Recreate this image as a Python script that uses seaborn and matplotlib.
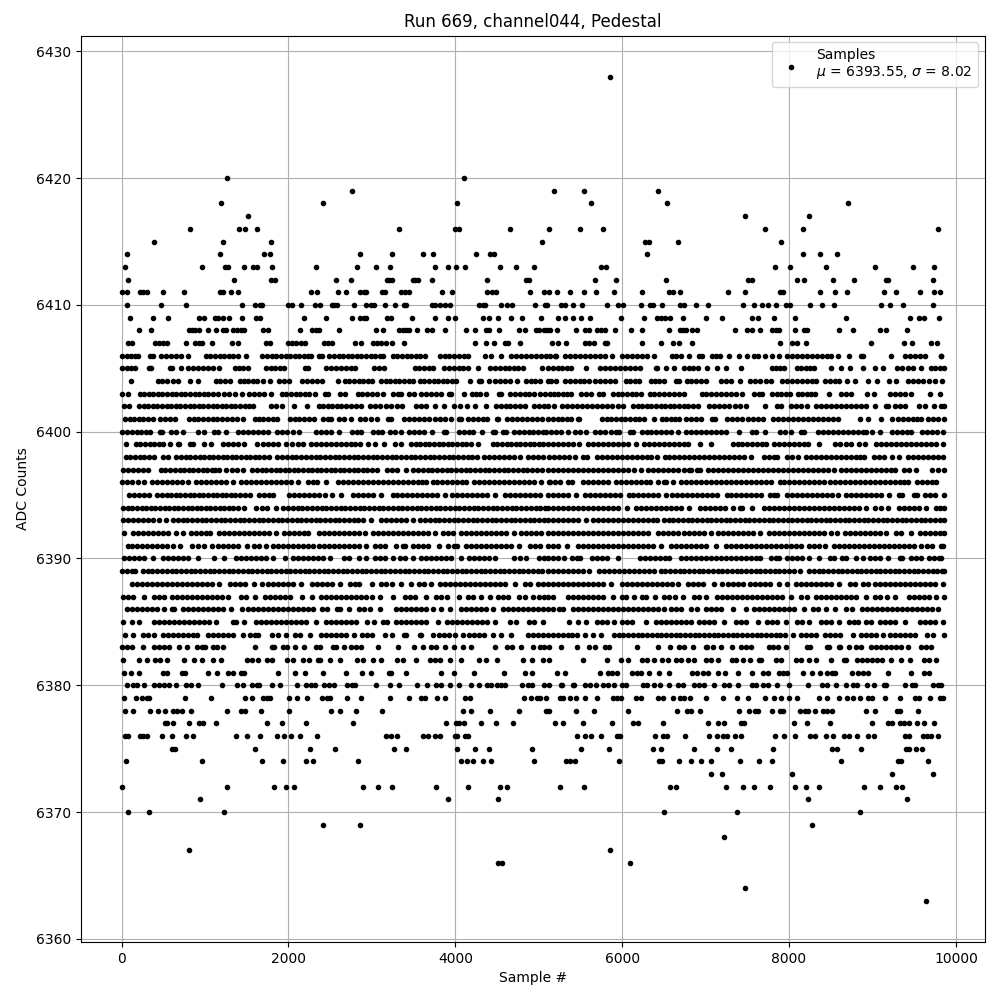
# Pedestal samples for one ADC channel
import pandas as pd
import matplotlib
matplotlib.use("Agg")
import matplotlib.pyplot as plt
import seaborn as sns

# sample numbers at each ADC count
s6428 = [5856]
s6420 = [1268, 4100]
s6419 = [2756, 5184, 5544, 6432]
s6418 = [1196, 2408, 4016, 5628, 6540, 8712]
s6417 = [1520, 7476, 8244]
s6416 = [824, 1412, 1484, 1628, 3320, 3992, 4040, 4652, 5124, 5496, 5772, 7716, 8172, 9780]
s6415 = [392, 1220, 1796, 5044, 6276, 6324, 6672, 7908]
s6414 = [68, 1184, 1712, 1784, 2852, 3236, 3608, 3728, 4244, 4412, 4460, 6300, 8172, 8376, 8580]
s6413 = [44, 968, 1244, 1280, 1472, 1580, 1628, 1808, 2324, 2816, 3044, 3212, 3752, 3908, 4004, 4112, 4532, 4724,
         4940, 5748, 5808, 7836, 8016, 8448, 9036, 9480, 9732]
s6412 = [80, 1352, 1796, 1844, 2564, 2744, 3180, 3210, 3240, 3488, 3515, 3550, 3716, 4376, 4852, 4880, 5676, 5928,
         6528, 7512, 7560, 8100, 8184, 8532, 8784, 9168, 9192, 9720]
s6411 = [0, 68, 220, 260, 308, 500, 752, 1184, 1220, 1316, 1400, 2276, 2336, 2588, 2684, 2852, 2900, 2924, 3116, 3152,
         3352, 3400, 3440, 3836, 3956, 4376, 4436, 4484, 4892, 5060, 5124, 5220, 5376, 5544, 5688, 5904, 6240, 6564,
         6612, 6696, 7272, 7476, 7896, 7932, 8376, 8556, 8700, 9144, 9288, 9564, 9732, 9804]
s6410 = [60, 476, 776, 1448, 1604, 1664, 1688, 2000, 2040, 2156, 2312, 2372, 2516, 2540, 2576, 2780, 2924, 2984, 3020,
         3152, 3272, 3380, 3404, 3716, 3752, 3812, 3872, 3932, 4280, 4328, 4352, 4544, 4616, 4676, 4952, 5072, 5100,
         5268, 5316, 5412, 5520, 5820, 5952, 6012, 6228, 6336, 6372, 6480, 6696, 6744, 6888, 7032, 7452, 7584, 7680,
         7752, 7848, 7968, 8016, 8256, 8400, 8544, 9108, 9216, 9360, 9720]
s6409 = [104, 380, 560, 932, 992, 1124, 1160, 1220, 1292, 1448, 1616, 1664, 2192, 2444, 2756, 2852, 2900, 2924, 3176,
         3224, 3476, 3752, 3908, 3992, 4328, 4400, 4508, 4664, 4796, 5030, 5232, 5316, 5412, 5504, 5616, 5988, 6264,
         6420, 6468, 6516, 6576, 6732, 7008, 7200, 7560, 7632, 7824, 8076, 8688, 9444, 9552, 9612, 9792]
s6408 = [212, 356, 812, 848, 884, 932, 1040, 1136, 1220, 1256, 1340, 1388, 1436, 1472, 1700, 1760, 2144, 2288, 2324,
         2360, 2600, 3044, 3128, 3320, 3368, 3404, 3440, 3536, 3656, 3716, 3872, 4124, 4232, 4364, 4400, 4520, 4760,
         4832, 4964, 5000, 5060, 5100, 5136, 5220, 5448, 5556, 5604, 5700, 5748, 5796, 5916, 6108, 6240, 6564, 6696,
         6732, 6768, 6840, 6900, 7356, 7500, 7560, 7656, 7800, 7848, 7884, 8076, 8184, 8220, 8604, 8772, 9096, 9168,
         9408]
s6407 = [76, 128, 404, 452, 500, 540, 776, 884, 932, 964, 1088, 1328, 1400, 1736, 1784, 2000, 2048, 2096, 2156, 2204,
         2420, 2468, 2516, 2792, 2864, 3008, 3056, 3104, 3164, 3236, 3380, 4232, 4364, 4460, 4592, 4628, 4772, 5160,
         5232, 5328, 5556, 5604, 5664, 5796, 5820, 6240, 6468, 6612, 6684, 6840, 7896, 8040, 8100, 8208, 8988, 9372,
         9468, 9696, 9768]
s6406 = [8, 60, 110, 160, 200, 340, 380, 470, 530, 590, 650, 710, 800, 1010, 1065, 1120, 1175, 1230, 1285, 1340, 1392,
         1488, 1688, 1745, 1800, 1855, 1910, 1965, 2020, 2075, 2130, 2185, 2240, 2272, 2368, 2400, 2488, 2545, 2600,
         2655, 2710, 2765, 2820, 2875, 2930, 2985, 3040, 3095, 3132, 3248, 3305, 3360, 3415, 3470, 3525, 3580, 3632,
         3816, 3875, 3930, 3990, 4045, 4100, 4152, 4360, 4424, 4548, 4668, 4725, 4785, 4845, 4905, 4965, 5025, 5085,
         5140, 5190, 5204, 5312, 5370, 5430, 5490, 5550, 5610, 5670, 5730, 5790, 5872, 6000, 6060, 6120, 6180, 6240,
         6300, 6384, 6592, 6650, 6710, 6804, 6920, 6956, 7080, 7130, 7176, 7284, 7396, 7492, 7580, 7624, 7712, 7800,
         7884, 7972, 8030, 8090, 8150, 8210, 8270, 8330, 8390, 8450, 8504, 8592, 8724, 8860, 8884, 9228, 9392, 9450,
         9510, 9570, 9624, 9820, 9824]
s6405 = [8, 60, 110, 160, 328, 352, 580, 600, 712, 800, 860, 920, 975, 1035, 1092, 1172, 1356, 1410, 1460, 1512, 1728,
         1785, 1840, 1895, 1952, 2200, 2240, 2448, 2505, 2565, 2625, 2685, 2745, 2800, 3028, 3085, 3144, 3516, 3570,
         3625, 3680, 3732, 3868, 3925, 3980, 4040, 4095, 4152, 4268, 4416, 4470, 4530, 4590, 4645, 4700, 4755, 4812,
         5040, 5112, 5170, 5225, 5280, 5335, 5384, 5568, 5740, 5800, 5855, 5915, 5975, 6035, 6095, 6155, 6216, 6400,
         6416, 6524, 6620, 6740, 6795, 6850, 6904, 7020, 7140, 7248, 7428, 7792, 7845, 7895, 7944, 8092, 8145, 8200,
         8250, 8300, 8508, 8628, 8736, 8892, 9032, 9132, 9292, 9355, 9420, 9484, 9582, 9700, 9755, 9805, 9856]
s6404 = [108, 432, 490, 550, 612, 680, 820, 920, 1128, 1185, 1245, 1304, 1416, 1470, 1520, 1575, 1624, 1700, 1784,
         1888, 1950, 2012, 2160, 2220, 2285, 2345, 2404, 2588, 2676, 2730, 2785, 2840, 2895, 2950, 3000, 3108, 3165,
         3220, 3275, 3330, 3385, 3440, 3492, 3576, 3630, 3685, 3740, 3795, 3850, 3905, 3960, 4012, 4172, 4288, 4304,
         4408, 4470, 4530, 4590, 4652, 4740, 4848, 4905, 4960, 5012, 5110, 5150, 5204, 5320, 5375, 5430, 5490, 5545,
         5604, 5680, 5735, 5795, 5855, 5912, 6040, 6095, 6150, 6204, 6340, 6395, 6445, 6496, 6640, 6676, 6772, 6830,
         6890, 6945, 7004, 7180, 7240, 7304, 7416, 7528, 7590, 7650, 7720, 7784, 7920, 7980, 8040, 8100, 8160, 8215,
         8270, 8324, 8428, 8485, 8545, 8604, 8700, 8796, 8952, 9060, 9200, 9284, 9420, 9480, 9545, 9610, 9680, 9744,
         9828]
s6403 = [8, 80, 216, 270, 325, 380, 435, 490, 545, 600, 655, 710, 765, 820, 875, 930, 985, 1040, 1095, 1152, 1228,
         1290, 1360, 1440, 1528, 1590, 1650, 1712, 1796, 1920, 1975, 2030, 2085, 2140, 2195, 2250, 2320, 2440, 2472,
         2620, 2680, 2828, 2885, 2945, 3005, 3065, 3132, 3256, 3310, 3352, 3440, 3500, 3588, 3650, 3710, 3770, 3832,
         3928, 3952, 4100, 4200, 4250, 4292, 4368, 4528, 4552, 4656, 4715, 4770, 4830, 4885, 4944, 5020, 5080, 5140,
         5180, 5235, 5290, 5340, 5384, 5512, 5570, 5624, 5728, 5768, 5888, 5945, 6000, 6060, 6120, 6170, 6224, 6328,
         6385, 6445, 6505, 6565, 6625, 6685, 6744, 6952, 7010, 7070, 7130, 7190, 7250, 7310, 7370, 7436, 7576, 7640,
         7676, 7792, 7850, 7905, 7960, 8012, 8104, 8160, 8210, 8260, 8312, 8484, 8620, 8680, 8744, 8940, 9024, 9208,
         9270, 9330, 9395, 9456, 9684, 9804]
s6402 = [28, 92, 208, 265, 320, 375, 430, 485, 540, 595, 650, 705, 760, 815, 870, 925, 980, 1035, 1090, 1145, 1200,
         1255, 1310, 1365, 1420, 1475, 1530, 1572, 1788, 1850, 1920, 2066, 2228, 2360, 2415, 2470, 2525, 2580, 2635,
         2690, 2745, 2810, 2872, 2980, 3040, 3100, 3165, 3230, 3295, 3360, 3528, 3590, 3652, 3760, 3860, 3988, 4052,
         4140, 4240, 4370, 4488, 4545, 4605, 4660, 4720, 4775, 4832, 4948, 5005, 5060, 5112, 5184, 5280, 5340, 5400,
         5460, 5520, 5580, 5640, 5700, 5760, 5820, 5880, 5945, 6004, 6128, 6185, 6240, 6295, 6350, 6405, 6460, 6515,
         6570, 6625, 6680, 6735, 6790, 6845, 6904, 7040, 7100, 7160, 7220, 7285, 7350, 7415, 7484, 7708, 7852, 7904,
         8020, 8080, 8140, 8216, 8320, 8380, 8440, 8500, 8560, 8620, 8680, 8740, 8800, 8860, 8924, 9035, 9160, 9184,
         9268, 9330, 9384, 9560, 9624, 9732, 9820, 9856]
s6401 = [40, 95, 150, 205, 260, 315, 372, 456, 515, 575, 640, 808, 865, 920, 975, 1030, 1090, 1145, 1200, 1260, 1320,
         1385, 1456, 1596, 1650, 1700, 1755, 1810, 1864, 2016, 2075, 2130, 2185, 2245, 2304, 2416, 2470, 2512, 2608,
         2670, 2744, 2856, 2915, 2985, 3064, 3196, 3232, 3380, 3440, 3500, 3560, 3625, 3690, 3755, 3820, 3880, 3944,
         4040, 4072, 4156, 4215, 4270, 4330, 4384, 4496, 4512, 4616, 4675, 4735, 4795, 4855, 4915, 4975, 5035, 5112,
         5170, 5225, 5280, 5335, 5384, 5468, 5484, 5760, 5815, 5870, 5925, 5980, 6035, 6090, 6150, 6205, 6264, 6384,
         6472, 6525, 6580, 6632, 6684, 6768, 6825, 6885, 6944, 7080, 7116, 7260, 7320, 7380, 7440, 7505, 7570, 7630,
         7692, 7808, 7865, 7925, 7985, 8045, 8105, 8165, 8225, 8285, 8345, 8405, 8465, 8525, 8584, 8852, 8952, 9102,
         9240, 9300, 9360, 9420, 9480, 9530, 9584, 9668, 9730, 9790, 9856]
s6400 = [0, 68, 125, 180, 235, 290, 344, 456, 480, 588, 650, 740, 920, 992, 1108, 1160, 1252, 1400, 1460, 1520, 1580,
         1640, 1695, 1752, 1868, 1925, 1985, 2050, 2124, 2328, 2390, 2450, 2510, 2600, 2760, 2820, 2872, 3008, 3070,
         3120, 3220, 3280, 3352, 3448, 3510, 3570, 3630, 3724, 3868, 3892, 4040, 4100, 4160, 4212, 4320, 4448, 4472,
         4568, 4612, 4708, 4765, 4820, 4880, 4935, 4990, 5045, 5092, 5152, 5210, 5270, 5352, 5440, 5500, 5564, 5680,
         5740, 5800, 5860, 5920, 5964, 6088, 6124, 6240, 6295, 6350, 6405, 6460, 6520, 6580, 6664, 6768, 6825, 6885,
         6945, 7005, 7065, 7125, 7185, 7244, 7402, 7552, 7604, 7706, 7888, 7950, 8024, 8140, 8184, 8352, 8410, 8470,
         8530, 8590, 8650, 8710, 8770, 8830, 8890, 8924, 9000, 9092, 9232, 9290, 9350, 9410, 9464, 9592, 9650, 9710,
         9770, 9844]
s6399 = [56, 168, 225, 280, 335, 390, 445, 500, 584, 680, 692, 816, 852, 988, 1072, 1216, 1270, 1330, 1392, 1464, 1628,
         1690, 1750, 1810, 1872, 1976, 2040, 2112, 2172, 2268, 2325, 2385, 2445, 2505, 2565, 2625, 2685, 2745, 2800,
         2852, 2948, 3032, 3140, 3280, 3352, 3468, 3525, 3580, 3635, 3690, 3745, 3800, 3855, 3910, 3965, 4020, 4075,
         4130, 4190, 4272, 4448, 4505, 4560, 4615, 4670, 4725, 4780, 4835, 4890, 4945, 5000, 5055, 5112, 5170, 5230,
         5290, 5350, 5410, 5484, 5592, 5650, 5710, 5770, 5830, 5890, 5950, 6010, 6070, 6164, 6260, 6320, 6380, 6440,
         6500, 6560, 6620, 6680, 6740, 6792, 6936, 7068, 7328, 7385, 7440, 7500, 7560, 7620, 7670, 7724, 7820, 7875,
         7935, 7995, 8055, 8115, 8175, 8224, 8364, 8548, 8610, 8680, 8744, 8840, 8912, 9040, 9100, 9160, 9220, 9280,
         9340, 9400, 9460, 9520, 9580, 9640, 9700, 9760, 9844]
s6398 = [48, 105, 160, 215, 270, 330, 392, 496, 560, 656, 715, 770, 825, 880, 935, 990, 1045, 1100, 1155, 1210, 1265,
         1320, 1375, 1430, 1485, 1540, 1595, 1650, 1710, 1772, 1868, 1925, 1982, 2039, 2096, 2153, 2210, 2267, 2324,
         2381, 2438, 2495, 2552, 2609, 2666, 2723, 2780, 2837, 2894, 2951, 3008, 3065, 3122, 3179, 3236, 3293, 3350,
         3407, 3464, 3521, 3578, 3635, 3692, 3749, 3806, 3863, 3920, 3977, 4034, 4091, 4148, 4205, 4264, 4348, 4405,
         4465, 4525, 4585, 4645, 4705, 4772, 4868, 4930, 4990, 5052, 5120, 5180, 5240, 5300, 5360, 5432, 5528, 5584,
         5700, 5760, 5820, 5880, 5940, 6000, 6060, 6120, 6180, 6240, 6300, 6344, 6420, 6508, 6565, 6620, 6680, 6740,
         6800, 6860, 6920, 6980, 7040, 7100, 7160, 7220, 7280, 7340, 7400, 7460, 7544, 7700, 7760, 7816, 7856, 7980,
         8040, 8104, 8208, 8265, 8325, 8385, 8445, 8505, 8565, 8625, 8685, 8745, 8805, 8850, 8904, 9020, 9080, 9140,
         9232, 9316, 9420, 9480, 9540, 9600, 9660, 9720, 9780, 9844]
s6397 = [16, 75, 135, 195, 255, 312, 468, 525, 580, 640, 695, 750, 805, 860, 915, 970, 1025, 1080, 1125, 1172, 1256,
         1320, 1380, 1460, 1568, 1625, 1680, 1735, 1790, 1845, 1900, 1955, 2010, 2065, 2120, 2175, 2230, 2285, 2340,
         2395, 2450, 2505, 2560, 2615, 2670, 2725, 2780, 2835, 2890, 2945, 3000, 3064, 3180, 3240, 3300, 3404, 3496,
         3553, 3610, 3667, 3724, 3781, 3838, 3895, 3952, 4009, 4066, 4123, 4180, 4237, 4294, 4351, 4408, 4465, 4522,
         4579, 4636, 4693, 4750, 4807, 4864, 4921, 4978, 5035, 5112, 5170, 5230, 5290, 5350, 5410, 5470, 5530, 5590,
         5650, 5710, 5770, 5830, 5890, 5950, 6010, 6070, 6144, 6224, 6312, 6375, 6435, 6495, 6555, 6615, 6675, 6735,
         6795, 6824, 6900, 6936, 7032, 7090, 7150, 7210, 7270, 7330, 7390, 7450, 7510, 7570, 7630, 7690, 7750, 7810,
         7870, 7930, 7990, 8050, 8110, 8170, 8230, 8290, 8350, 8410, 8470, 8536, 8620, 8680, 8740, 8800, 8860, 8920,
         8980, 9040, 9100, 9160, 9220, 9272, 9380, 9440, 9524, 9712, 9780, 9856]
s6396 = [8, 65, 130, 192, 272, 368, 425, 485, 545, 605, 665, 725, 800, 896, 955, 1015, 1075, 1135, 1195, 1255, 1332,
         1428, 1490, 1550, 1610, 1670, 1730, 1790, 1850, 1910, 1970, 2030, 2112, 2240, 2300, 2340, 2446, 2588, 2650,
         2710, 2770, 2830, 2890, 2950, 3010, 3070, 3130, 3190, 3250, 3310, 3370, 3430, 3490, 3550, 3600, 3652, 3728,
         3785, 3845, 3905, 3965, 4025, 4085, 4132, 4228, 4285, 4345, 4405, 4465, 4525, 4585, 4645, 4705, 4765, 4825,
         4885, 4945, 5032, 5120, 5140, 5200, 5256, 5352, 5404, 5528, 5590, 5650, 5710, 5770, 5832, 5920, 5980, 6040,
         6100, 6160, 6220, 6280, 6336, 6432, 6500, 6524, 6612, 6700, 6760, 6820, 6880, 6940, 7000, 7060, 7120, 7180,
         7240, 7300, 7360, 7420, 7480, 7540, 7600, 7660, 7720, 7784, 7888, 7945, 8005, 8065, 8125, 8185, 8245, 8305,
         8365, 8425, 8485, 8545, 8605, 8665, 8725, 8785, 8845, 8905, 8965, 9025, 9085, 9145, 9205, 9265, 9325, 9375,
         9424, 9528, 9590, 9650, 9710, 9764]
s6395 = [88, 145, 205, 265, 332, 428, 485, 540, 595, 650, 705, 760, 815, 870, 925, 980, 1035, 1090, 1145, 1200, 1255,
         1310, 1365, 1420, 1480, 1544, 1648, 1710, 1770, 1812, 2008, 2065, 2125, 2185, 2245, 2305, 2365, 2432, 2524,
         2632, 2768, 2830, 2890, 2950, 3010, 3112, 3248, 3305, 3365, 3425, 3485, 3545, 3605, 3665, 3725, 3785, 3872,
         3960, 4020, 4080, 4140, 4200, 4260, 4320, 4380, 4472, 4596, 4655, 4715, 4775, 4835, 4895, 4955, 5015, 5112,
         5170, 5230, 5290, 5350, 5444, 5552, 5610, 5670, 5730, 5790, 5850, 5910, 5970, 6076, 6128, 6190, 6250, 6310,
         6370, 6430, 6528, 6600, 6660, 6720, 6780, 6840, 6900, 6960, 7020, 7080, 7140, 7256, 7300, 7360, 7420, 7480,
         7540, 7600, 7660, 7768, 7820, 7856, 7972, 8030, 8090, 8150, 8210, 8270, 8330, 8390, 8450, 8510, 8584, 8680,
         8740, 8800, 8860, 8920, 8980, 9040, 9100, 9204, 9320, 9352, 9500, 9536, 9632, 9690, 9750, 9852]
s6394 = [16, 75, 130, 185, 240, 295, 350, 405, 460, 515, 570, 625, 680, 735, 790, 845, 900, 955, 1010, 1065, 1120,
         1175, 1230, 1285, 1340, 1395, 1472, 1616, 1680, 1740, 1852, 1940, 1997, 2054, 2111, 2168, 2225, 2282, 2339,
         2396, 2453, 2510, 2567, 2624, 2681, 2738, 2795, 2852, 2909, 2966, 3023, 3080, 3137, 3194, 3251, 3308, 3365,
         3422, 3479, 3536, 3593, 3650, 3707, 3764, 3821, 3878, 3935, 3992, 4049, 4106, 4163, 4220, 4277, 4334, 4391,
         4448, 4505, 4562, 4619, 4676, 4733, 4790, 4847, 4904, 4961, 5018, 5075, 5112, 5170, 5230, 5290, 5350, 5410,
         5470, 5530, 5590, 5650, 5710, 5770, 5830, 5890, 5950, 6056, 6168, 6230, 6290, 6350, 6410, 6470, 6530, 6590,
         6650, 6710, 6804, 6928, 6990, 7050, 7110, 7170, 7230, 7324, 7408, 7432, 7552, 7700, 7760, 7820, 7880, 7940,
         8000, 8060, 8120, 8180, 8240, 8300, 8360, 8420, 8480, 8540, 8600, 8660, 8720, 8780, 8840, 8924, 9032, 9100,
         9184, 9320, 9380, 9440, 9500, 9560, 9644, 9760, 9810, 9856]
s6393 = [16, 75, 135, 195, 255, 315, 375, 452, 528, 616, 673, 730, 787, 844, 901, 958, 1015, 1072, 1129, 1186, 1243,
         1300, 1357, 1414, 1471, 1528, 1585, 1642, 1699, 1756, 1813, 1870, 1927, 1984, 2041, 2098, 2155, 2212, 2269,
         2326, 2383, 2440, 2497, 2554, 2611, 2668, 2725, 2782, 2839, 2896, 2992, 3112, 3170, 3230, 3290, 3350, 3410,
         3492, 3580, 3637, 3694, 3751, 3808, 3865, 3922, 3979, 4036, 4093, 4150, 4207, 4264, 4321, 4378, 4435, 4492,
         4549, 4606, 4663, 4720, 4777, 4834, 4891, 4948, 5005, 5062, 5112, 5170, 5230, 5290, 5350, 5410, 5470, 5564,
         5648, 5710, 5770, 5830, 5890, 5950, 6010, 6070, 6130, 6190, 6250, 6310, 6370, 6416, 6500, 6557, 6614, 6671,
         6728, 6785, 6842, 6899, 6956, 7013, 7070, 7127, 7184, 7241, 7298, 7355, 7412, 7469, 7526, 7583, 7640, 7697,
         7754, 7811, 7868, 7925, 7982, 8039, 8096, 8153, 8210, 8267, 8324, 8381, 8438, 8495, 8552, 8609, 8666, 8723,
         8780, 8837, 8894, 8951, 9008, 9065, 9122, 9179, 9236, 9293, 9350, 9407, 9464, 9521, 9578, 9635, 9692, 9749,
         9806, 9856]
s6392 = [24, 136, 195, 255, 315, 375, 435, 495, 555, 652, 732, 828, 890, 950, 1010, 1064, 1168, 1230, 1290, 1350, 1410,
         1470, 1530, 1590, 1650, 1710, 1770, 1852, 1948, 2005, 2065, 2125, 2185, 2240, 2360, 2420, 2480, 2540, 2600,
         2660, 2720, 2780, 2840, 2912, 3016, 3075, 3135, 3195, 3255, 3315, 3375, 3435, 3495, 3555, 3615, 3675, 3752,
         3848, 3910, 3972, 4068, 4125, 4185, 4245, 4305, 4365, 4425, 4485, 4545, 4605, 4704, 4788, 4850, 4910, 4970,
         5030, 5112, 5170, 5230, 5290, 5350, 5410, 5470, 5530, 5590, 5650, 5710, 5770, 5830, 5890, 5950, 6010, 6070,
         6130, 6190, 6250, 6312, 6432, 6495, 6555, 6615, 6675, 6735, 6795, 6855, 6915, 6975, 7064, 7148, 7210, 7270,
         7330, 7390, 7450, 7510, 7570, 7656, 7760, 7820, 7880, 7940, 8000, 8060, 8120, 8180, 8240, 8300, 8360, 8416,
         8500, 8576, 8672, 8735, 8795, 8855, 8915, 8975, 9035, 9095, 9164, 9280, 9340, 9456, 9572, 9630, 9690, 9750,
         9810, 9856]
s6391 = [72, 130, 190, 250, 310, 370, 430, 490, 550, 610, 704, 848, 910, 992, 1088, 1150, 1210, 1270, 1330, 1390, 1504,
         1588, 1650, 1732, 1820, 1880, 1940, 2000, 2060, 2120, 2180, 2240, 2300, 2360, 2420, 2480, 2540, 2600, 2660,
         2720, 2780, 2840, 2932, 3040, 3100, 3160, 3292, 3368, 3400, 3496, 3555, 3615, 3675, 3800, 3916, 3980, 4024,
         4128, 4190, 4250, 4310, 4370, 4430, 4490, 4550, 4610, 4670, 4764, 4896, 4960, 5020, 5112, 5170, 5230, 5336,
         5468, 5530, 5590, 5650, 5710, 5770, 5830, 5890, 5950, 6010, 6070, 6130, 6190, 6250, 6310, 6370, 6464, 6580,
         6640, 6700, 6760, 6820, 6880, 6940, 7000, 7124, 7240, 7300, 7360, 7420, 7480, 7540, 7600, 7660, 7720, 7780,
         7840, 7900, 7960, 8020, 8080, 8144, 8240, 8300, 8360, 8432, 8540, 8600, 8660, 8720, 8780, 8840, 8900, 8960,
         9020, 9080, 9140, 9200, 9260, 9320, 9380, 9440, 9500, 9584, 9652, 9712, 9820, 9844]
s6390 = [28, 90, 150, 210, 270, 372, 496, 555, 615, 675, 735, 800, 920, 1112, 1230, 1376, 1435, 1495, 1555, 1615, 1675,
         1735, 1820, 1964, 2056, 2115, 2175, 2235, 2295, 2355, 2415, 2492, 2668, 2730, 2840, 2924, 3036, 3100, 3160,
         3252, 3340, 3400, 3492, 3588, 3650, 3710, 3770, 3830, 3890, 3950, 4064, 4160, 4220, 4280, 4340, 4400, 4472,
         4708, 4770, 4852, 5000, 5060, 5112, 5170, 5230, 5300, 5400, 5460, 5496, 5640, 5700, 5760, 5820, 5944, 6208,
         6270, 6330, 6390, 6450, 6510, 6564, 6700, 6760, 6820, 6880, 6940, 7000, 7060, 7120, 7180, 7240, 7300, 7360,
         7420, 7480, 7540, 7600, 7656, 7780, 7840, 7884, 7980, 8040, 8100, 8160, 8244, 8364, 8488, 8544, 8640, 8684,
         8800, 8884, 8972, 9030, 9090, 9184, 9328, 9352, 9460, 9520, 9584, 9680, 9740, 9800, 9824]
s6389 = [8, 65, 120, 160, 256, 313, 370, 427, 484, 541, 598, 655, 712, 769, 826, 883, 940, 997, 1054, 1111, 1168, 1225,
         1282, 1339, 1396, 1453, 1510, 1567, 1624, 1681, 1738, 1795, 1852, 1909, 1966, 2023, 2080, 2137, 2194, 2251,
         2308, 2365, 2422, 2479, 2536, 2593, 2650, 2707, 2764, 2821, 2878, 2935, 2992, 3049, 3106, 3163, 3220, 3277,
         3334, 3391, 3448, 3505, 3562, 3619, 3676, 3733, 3790, 3847, 3904, 3961, 4018, 4075, 4132, 4189, 4246, 4303,
         4360, 4417, 4474, 4531, 4588, 4645, 4702, 4759, 4816, 4873, 4930, 4987, 5044, 5112, 5170, 5230, 5290, 5350,
         5410, 5470, 5530, 5604, 5720, 5780, 5840, 5900, 5960, 6020, 6080, 6140, 6200, 6260, 6320, 6376, 6460, 6517,
         6574, 6631, 6688, 6745, 6802, 6859, 6916, 6973, 7030, 7087, 7144, 7201, 7258, 7315, 7372, 7429, 7486, 7543,
         7600, 7657, 7714, 7771, 7828, 7885, 7942, 7999, 8056, 8136, 8240, 8297, 8354, 8411, 8468, 8525, 8582, 8639,
         8696, 8753, 8810, 8867, 8924, 8981, 9038, 9095, 9152, 9209, 9266, 9323, 9380, 9437, 9494, 9551, 9608, 9665,
         9722, 9779, 9836, 9856]
s6388 = [120, 180, 240, 300, 360, 420, 480, 540, 600, 660, 720, 780, 840, 900, 960, 1020, 1080, 1172, 1296, 1360, 1420,
         1480, 1592, 1688, 1750, 1810, 1870, 1930, 1990, 2050, 2152, 2280, 2340, 2400, 2460, 2520, 2612, 2736, 2800,
         2840, 2996, 3112, 3175, 3235, 3344, 3468, 3560, 3620, 3712, 3816, 3880, 3940, 4000, 4060, 4120, 4180, 4240,
         4300, 4360, 4420, 4480, 4540, 4600, 4712, 4840, 4892, 4988, 5050, 5112, 5170, 5230, 5290, 5350, 5410, 5470,
         5530, 5590, 5650, 5710, 5770, 5864, 6000, 6060, 6120, 6180, 6240, 6300, 6360, 6420, 6480, 6540, 6600, 6672,
         6792, 6850, 6910, 6970, 7104, 7192, 7272, 7330, 7390, 7444, 7528, 7590, 7650, 7710, 7770, 7884, 7972, 8080,
         8140, 8200, 8260, 8320, 8380, 8440, 8500, 8604, 8728, 8790, 8884, 8944, 9028, 9090, 9150, 9210, 9270, 9330,
         9390, 9450, 9510, 9570, 9630, 9690, 9750, 9844]
s6387 = [16, 75, 135, 272, 388, 450, 504, 600, 660, 720, 780, 840, 900, 960, 1020, 1080, 1140, 1200, 1272, 1432, 1495,
         1600, 1720, 1780, 1840, 1900, 1960, 2020, 2160, 2284, 2388, 2450, 2510, 2570, 2630, 2690, 2750, 2810, 2870,
         2930, 3000, 3092, 3256, 3400, 3460, 3520, 3652, 3768, 3830, 3904, 4044, 4148, 4210, 4312, 4412, 4508, 4570,
         4632, 4760, 4840, 4936, 5000, 5060, 5112, 5170, 5352, 5410, 5470, 5530, 5590, 5650, 5710, 5770, 5884, 5992,
         6050, 6136, 6232, 6290, 6392, 6500, 6560, 6632, 6732, 6860, 6920, 7004, 7140, 7200, 7260, 7320, 7380, 7440,
         7500, 7560, 7620, 7680, 7740, 7800, 7860, 7920, 8024, 8144, 8212, 8320, 8380, 8440, 8500, 8560, 8620, 8680,
         8740, 8800, 8924, 9032, 9090, 9176, 9272, 9440, 9500, 9560, 9620, 9680, 9764, 9852]
s6386 = [68, 130, 190, 250, 310, 370, 430, 504, 600, 624, 736, 795, 855, 915, 975, 1035, 1095, 1155, 1215, 1312, 1448,
         1510, 1570, 1630, 1690, 1750, 1810, 1870, 1930, 1990, 2050, 2110, 2170, 2230, 2290, 2400, 2460, 2576, 2612,
         2720, 2840, 2900, 2972, 3100, 3288, 3350, 3410, 3470, 3530, 3590, 3650, 3732, 3828, 3940, 4068, 4130, 4190,
         4250, 4310, 4370, 4452, 4568, 4630, 4690, 4750, 4810, 4870, 4930, 4990, 5050, 5112, 5170, 5240, 5296, 5408,
         5470, 5530, 5590, 5650, 5710, 5770, 5830, 5890, 5950, 6010, 6070, 6130, 6190, 6250, 6310, 6370, 6430, 6504,
         6580, 6640, 6700, 6824, 6892, 7000, 7060, 7120, 7180, 7324, 7482, 7580, 7640, 7700, 7760, 7820, 7880, 7940,
         8000, 8060, 8184, 8288, 8350, 8444, 8552, 8688, 8752, 8872, 8930, 8990, 9050, 9110, 9170, 9230, 9290, 9350,
         9410, 9470, 9530, 9590, 9650, 9710, 9784]
s6385 = [20, 128, 212, 388, 450, 510, 570, 630, 690, 750, 810, 870, 930, 990, 1050, 1132, 1336, 1372, 1468, 1608, 1670,
         1730, 1790, 1850, 1910, 1970, 2030, 2090, 2150, 2210, 2332, 2448, 2510, 2570, 2630, 2690, 2750, 2810, 2944,
         3028, 3136, 3184, 3288, 3350, 3410, 3470, 3530, 3590, 3650, 3792, 3900, 3960, 4020, 4080, 4140, 4200, 4260,
         4320, 4380, 4480, 4656, 4732, 4880, 4940, 5052, 5358, 5472, 5564, 5700, 5760, 5820, 5904, 6000, 6060, 6120,
         6284, 6400, 6460, 6520, 6580, 6640, 6700, 6760, 6824, 6920, 6980, 7040, 7100, 7224, 7368, 7430, 7490, 7624,
         7740, 7800, 7860, 7964, 8100, 8160, 8244, 8380, 8440, 8500, 8604, 8720, 8780, 8824, 8920, 8984, 9088, 9150,
         9210, 9270, 9384, 9572, 9630, 9690, 9750, 9844]
s6384 = [40, 140, 256, 320, 392, 496, 555, 615, 675, 735, 795, 850, 904, 1040, 1100, 1160, 1220, 1280, 1340, 1452,
         1536, 1600, 1640, 1808, 1870, 1972, 2080, 2140, 2260, 2388, 2450, 2510, 2570, 2630, 2690, 2784, 2880, 2940,
         3000, 3152, 3236, 3388, 3412, 3576, 3592, 3736, 3800, 3860, 3920, 4000, 4096, 4160, 4220, 4280, 4340, 4452,
         4548, 4664, 4868, 4930, 4990, 5050, 5112, 5170, 5230, 5290, 5350, 5400, 5464, 5552, 5652, 5752, 5900, 5957,
         6014, 6071, 6128, 6185, 6242, 6299, 6356, 6413, 6470, 6527, 6584, 6641, 6698, 6755, 6812, 6869, 6926, 6983,
         7040, 7097, 7154, 7211, 7268, 7325, 7382, 7439, 7496, 7553, 7610, 7667, 7724, 7781, 7838, 7895, 7952, 8044,
         8140, 8200, 8260, 8324, 8432, 8490, 8550, 8610, 8764, 8860, 8920, 8980, 9040, 9124, 9208, 9270, 9330, 9390,
         9450, 9510, 9654, 9724, 9852]
s6383 = [8, 65, 125, 252, 388, 450, 510, 570, 692, 788, 908, 960, 1004, 1100, 1148, 1212, 1604, 1808, 1832, 1940, 1988,
         2080, 2192, 2328, 2372, 2528, 2572, 2660, 2748, 2810, 2872, 3068, 3310, 3508, 3612, 3708, 3770, 3872, 3988,
         4092, 4192, 4472, 4620, 4680, 4784, 4928, 5012, 5060, 5120, 5268, 5460, 5608, 5672, 5796, 5844, 6182, 6424,
         6576, 6680, 6740, 6844, 7000, 7016, 7092, 7188, 7320, 7420, 7480, 7544, 7760, 7810, 7864, 7964, 8212, 8256,
         8460, 8484, 8600, 8616, 8720, 8800, 8864, 8980, 9040, 9100, 9160, 9220, 9280, 9340, 9424, 9580, 9640, 9704]
s6382 = [12, 210, 310, 400, 460, 548, 752, 872, 968, 1100, 1188, 1500, 1560, 1632, 1740, 1800, 1988, 2052, 2180, 2252,
         2348, 2372, 2492, 2612, 2816, 2888, 3008, 3108, 3296, 3368, 3524, 3696, 3760, 3820, 3932, 4064, 4280, 4368,
         4496, 4808, 4920, 5048, 5120, 5532, 5820, 5984, 6072, 6240, 6300, 6384, 6480, 6552, 6640, 6704, 6792, 6864,
         7000, 7060, 7144, 7312, 7370, 7444, 7536, 7640, 7664, 7844, 7908, 8080, 8140, 8244, 8328, 8508, 8660, 8684,
         8820, 8880, 8940, 9000, 9060, 9120, 9224, 9336, 9444, 9612, 9672, 9760]
s6381 = [32, 108, 212, 500, 540, 720, 760, 1040, 1148, 1280, 1340, 1436, 1472, 1880, 2076, 2204, 2408, 2684, 2876,
         2984, 3200, 3228, 3404, 3828, 3980, 4220, 4580, 4832, 4920, 5220, 5316, 5736, 5832, 5872, 5932, 6112, 6172,
         6224, 6324, 6444, 6564, 6832, 6892, 6972, 7032, 7152, 7236, 7392, 7560, 7692, 7752, 7884, 7932, 7980, 8172,
         8280, 8376, 8452, 8512, 8552, 8760, 8832, 8892, 8952, 9192, 9464, 9612, 9672]
s6380 = [68, 140, 188, 272, 388, 450, 510, 570, 652, 768, 830, 912, 1208, 1388, 1460, 1560, 1620, 1652, 1808, 1904,
         2100, 2208, 2270, 2312, 2420, 2480, 2540, 2700, 2760, 2792, 3048, 3212, 3320, 3540, 3660, 3768, 3832, 3932,
         4040, 4184, 4280, 4380, 4428, 4500, 4548, 4596, 4796, 4868, 4920, 5060, 5120, 5272, 5284, 5408, 5424, 5560,
         5620, 5684, 5772, 5832, 5900, 6000, 6044, 6252, 6300, 6384, 6456, 6564, 6672, 6732, 6860, 6920, 6980, 7104,
         7220, 7280, 7384, 7560, 7604, 7692, 7752, 7860, 8004, 8232, 8400, 8452, 8568, 8688, 8772, 8812, 8940, 9024,
         9140, 9164, 9392, 9472, 9512, 9720, 9780, 9824]
s6379 = [32, 176, 240, 300, 332, 764, 1076, 1484, 1568, 1700, 1740, 1780, 2012, 2108, 2228, 2396, 2460, 2492, 2696,
         2864, 3212, 3440, 3584, 3632, 3780, 3872, 4112, 4172, 4820, 4904, 4980, 5020, 5088, 5252, 5292, 5380, 5444,
         5556, 5696, 5892, 5940, 5988, 6168, 6228, 6432, 6492, 6612, 6696, 6744, 6816, 7004, 7212, 7380, 7512, 7716,
         7824, 7908, 8004, 8100, 8364, 8460, 8604, 8692, 8772, 8852, 8952, 8992, 9156, 9324, 9512, 9552, 9684, 9804,
         9844]
s6378 = [44, 140, 344, 440, 524, 612, 660, 728, 836, 1268, 1436, 1484, 1676, 2008, 2504, 2612, 2804, 3116, 4088, 4184,
         4412, 4768, 5092, 5124, 5444, 5664, 6072, 6660, 6780, 6828, 6936, 7404, 7524, 7590, 7632, 7796, 7892, 7932,
         8136, 8192, 8232, 8316, 8412, 8460, 8512, 8928, 9036, 9292, 9332, 9540]
s6377 = [520, 548, 620, 812, 932, 972, 1136, 1748, 1928, 2216, 2768, 3884, 4004, 4040, 4100, 4304, 4484, 4688, 5192,
         5292, 5532, 5880, 6132, 6192, 6492, 7032, 7152, 7220, 7424, 7460, 8064, 8220, 8496, 9000, 9192, 9232, 9324,
         9372, 9432, 9528, 9612, 9732]
s6376 = [44, 80, 220, 252, 308, 488, 608, 776, 860, 1376, 1508, 1664, 1868, 1952, 2036, 2144, 2336, 3164, 3224, 3296,
         3612, 3668, 3752, 3812, 3992, 4020, 4112, 4150, 5460, 5556, 5628, 5748, 5940, 5972, 6396, 6492, 6540, 6756,
         7044, 7140, 7212, 7262, 7352, 7428, 7828, 7944, 8076, 8256, 8316, 8448, 8532, 8664, 8724, 8812, 8952, 9024,
         9384, 9432, 9600, 9652, 9700, 9780]
s6375 = [608, 644, 1604, 2264, 2552, 3260, 3404, 4016, 4232, 4400, 4916, 5508, 5844, 6372, 6468, 6864, 7140, 7308,
         7812, 8520, 8572, 8868, 9404, 9432, 9520, 9588]
s6374 = [56, 968, 1688, 1940, 2216, 2300, 2828, 4064, 4140, 4208, 4332, 4424, 4940, 5332, 5380, 5432, 5964, 6444,
         6480, 6684, 6828, 6948, 7068, 7416, 7644, 7800, 8628, 9300, 9340, 9660]
s6373 = [7068, 7200, 8040, 9240, 9720]
s6372 = [8, 1268, 1832, 1976, 2072, 2888, 3068, 3236, 3764, 4148, 4532, 4616, 5256, 5544, 6576, 6648, 7248, 7452,
         7584, 7776, 8076, 8208, 8364, 8904, 9096, 9288, 9348]
s6371 = [944, 3908, 4508, 8232, 9408]
s6370 = [80, 332, 1232, 6504, 7380, 8856]
s6369 = [2408, 2852, 8280]
s6368 = [7224]
s6367 = [812, 5856]
s6366 = [4512, 4560, 6096]
s6364 = [7476]
s6363 = [9636]

legend_text = "Samples\n$\\mu$ = 6393.55, $\\sigma$ = 8.02"

levels = {
    6428: s6428, 6420: s6420, 6419: s6419, 6418: s6418, 6417: s6417, 6416: s6416, 6415: s6415, 6414: s6414,
    6413: s6413, 6412: s6412, 6411: s6411, 6410: s6410, 6409: s6409, 6408: s6408, 6407: s6407, 6406: s6406,
    6405: s6405, 6404: s6404, 6403: s6403, 6402: s6402, 6401: s6401, 6400: s6400, 6399: s6399, 6398: s6398,
    6397: s6397, 6396: s6396, 6395: s6395, 6394: s6394, 6393: s6393, 6392: s6392, 6391: s6391, 6390: s6390,
    6389: s6389, 6388: s6388, 6387: s6387, 6386: s6386, 6385: s6385, 6384: s6384, 6383: s6383, 6382: s6382,
    6381: s6381, 6380: s6380, 6379: s6379, 6378: s6378, 6377: s6377, 6376: s6376, 6375: s6375, 6374: s6374,
    6373: s6373, 6372: s6372, 6371: s6371, 6370: s6370, 6369: s6369, 6368: s6368, 6367: s6367, 6366: s6366,
    6364: s6364, 6363: s6363,
}

rows = [(x, adc) for adc, xs in levels.items() for x in xs]
df = pd.DataFrame(rows, columns=["sample", "adc"])

fig, ax = plt.subplots(figsize=(10, 10), dpi=100)
# zorder above the grid, scatter sits under it otherwise
sns.scatterplot(data=df, x="sample", y="adc", color="black", marker=".", s=36, linewidth=1,
                edgecolor="black", label=legend_text, zorder=2.5, ax=ax)
ax.set_xlim(-492.8, 10348.8)
ax.set_ylim(6359.75, 6431.25)
ax.set_title("Run 669, channel044, Pedestal")
ax.set_xlabel("Sample #")
ax.set_ylabel("ADC Counts")
ax.grid(True)
ax.legend(loc="upper right")
fig.subplots_adjust(left=0.0805, right=0.985, top=0.9645, bottom=0.058)
plt.savefig("out.png", dpi=100)
